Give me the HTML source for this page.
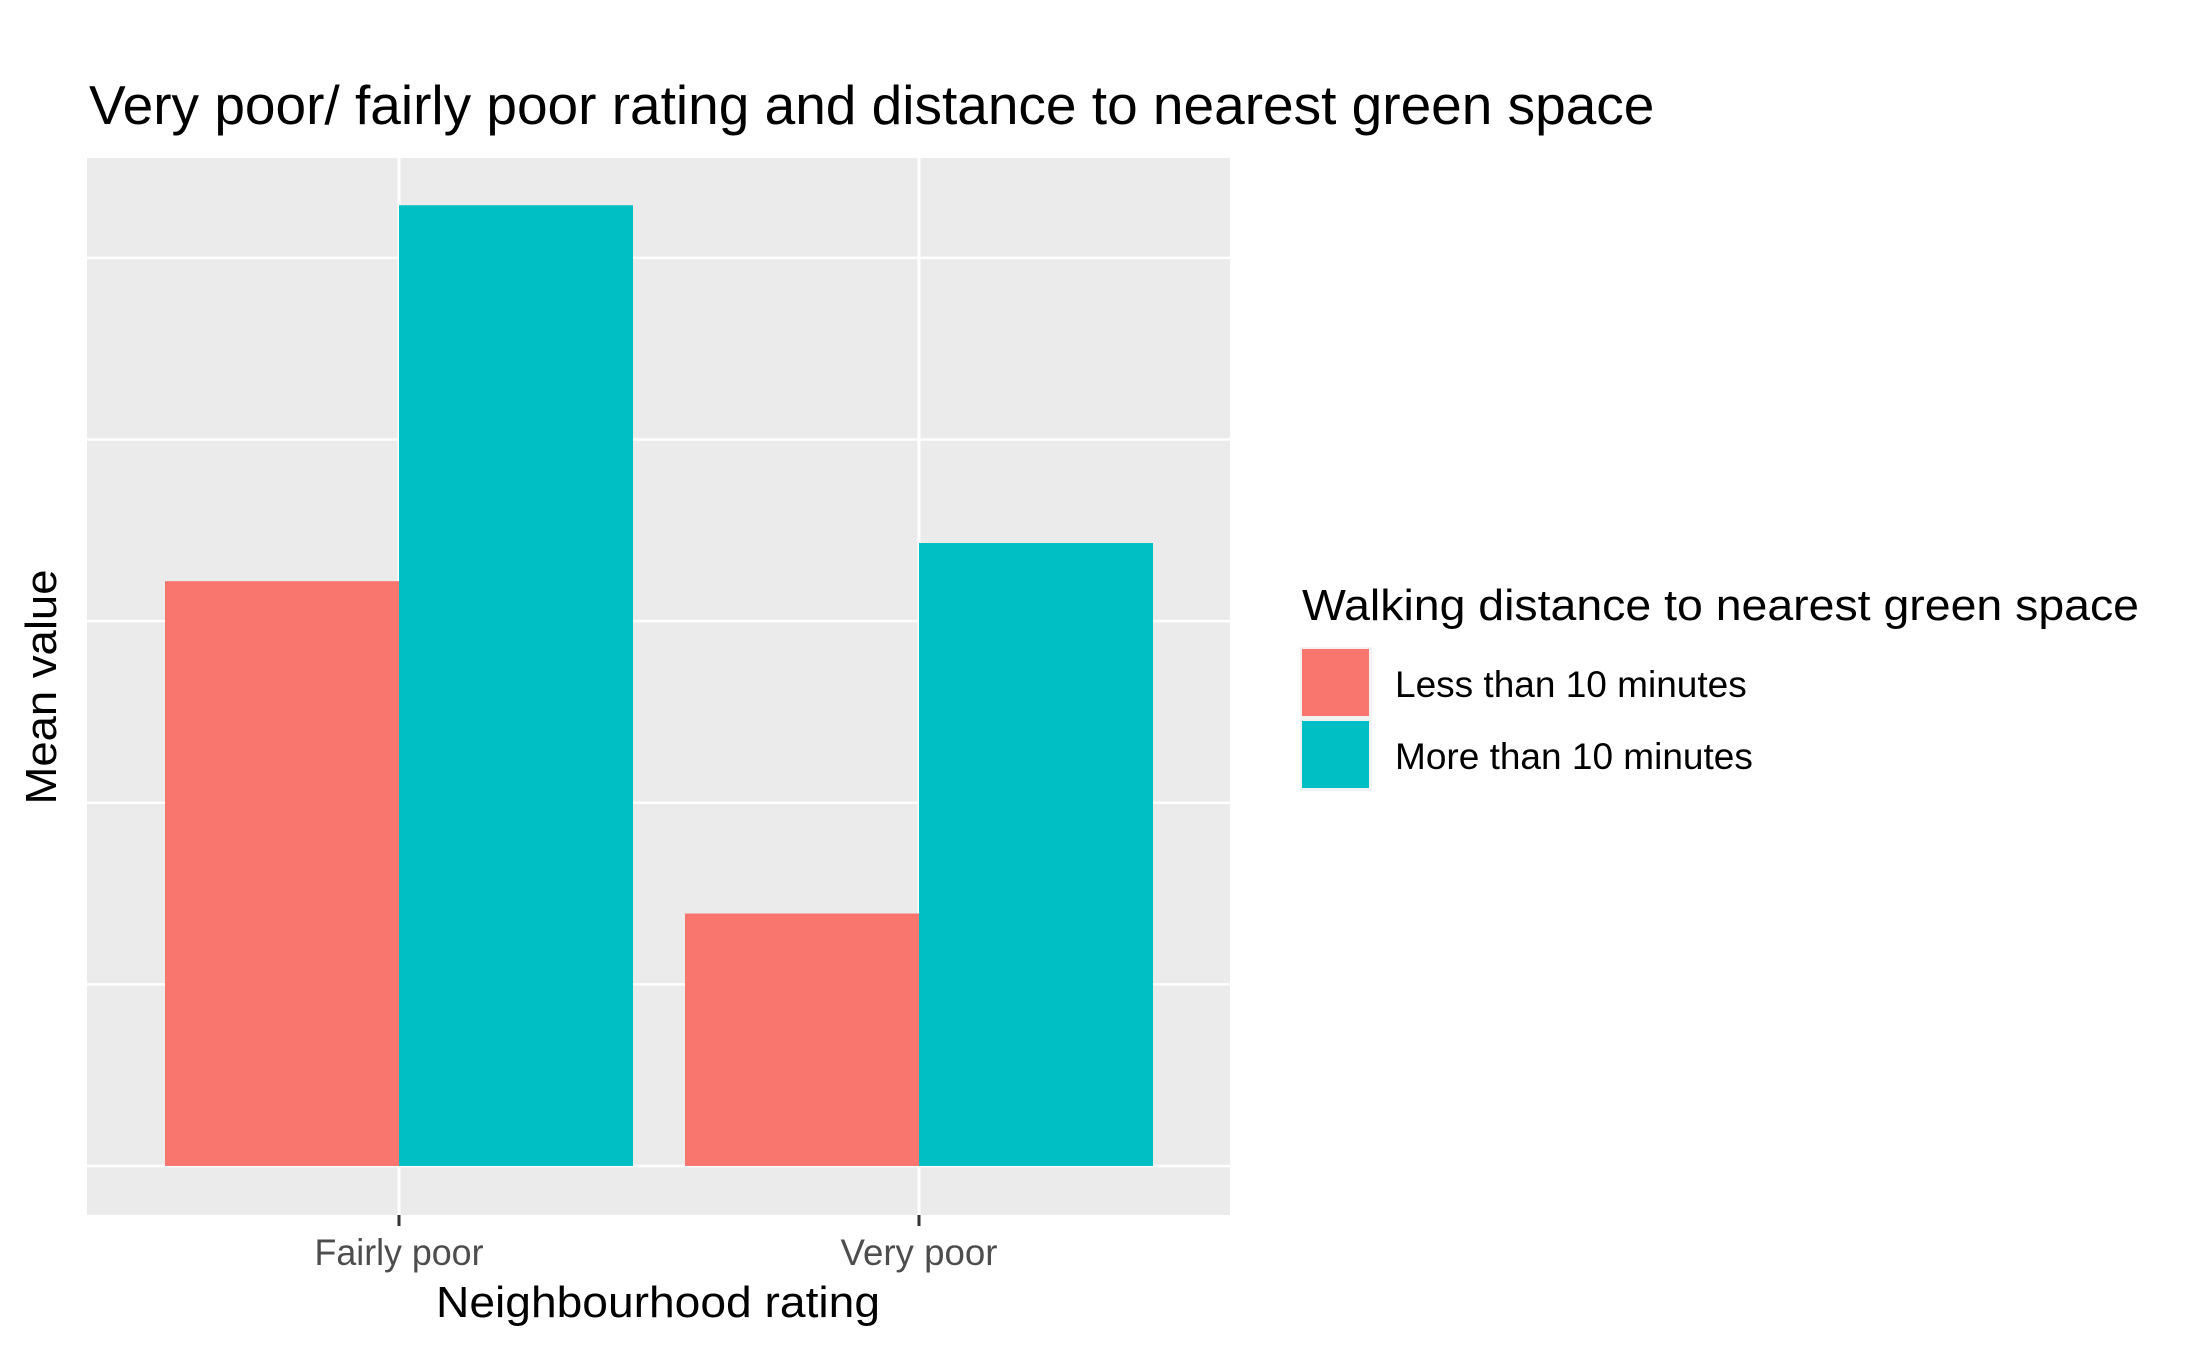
<!DOCTYPE html>
<html>
<head>
<meta charset="utf-8">
<style>
  html, body { margin: 0; padding: 0; background: #fff; }
  svg { display: block; }
  text { font-family: "Liberation Sans", Arial, sans-serif; }
</style>
</head>
<body>
<svg id="chart" width="2187" height="1349" viewBox="0 0 2187 1349" xmlns="http://www.w3.org/2000/svg">
  <rect x="0" y="0" width="2187" height="1349" fill="#ffffff"/>
  <text x="89" y="124" font-size="55" fill="#000">Very poor/ fairly poor rating and distance to nearest green space</text>
  <rect x="87" y="158" width="1143" height="1057" fill="#ebebeb"/>
  <g id="grid"></g>
  <g id="bars"></g>
  <g id="xaxis"></g>
  <text x="658" y="1317" font-size="44" text-anchor="middle" textLength="444" lengthAdjust="spacingAndGlyphs" fill="#000">Neighbourhood rating</text>
  <text transform="translate(56,687) rotate(-90)" font-size="44" text-anchor="middle" textLength="235" lengthAdjust="spacingAndGlyphs" fill="#000">Mean value</text>
  <g id="legend">
    <text x="1302" y="620" font-size="44" textLength="837" lengthAdjust="spacingAndGlyphs" fill="#000">Walking distance to nearest green space</text>
  </g>
</svg>
<script>
const categories = ["Fairly poor", "Very poor"];
const seriesNames = ["Less than 10 minutes", "More than 10 minutes"];
const lessThan10 = [3.22, 1.39];
const moreThan10 = [5.29, 3.43];
const gridValues = [0, 1, 2, 3, 4, 5];

const colors = ["#f8766d", "#00bfc4"];
const NS = "http://www.w3.org/2000/svg";
const panel = { left: 87, right: 1230, top: 158, bottom: 1215 };
const yMin = -0.27, yMax = 5.55;
function yScale(v) { return panel.bottom - (v - yMin) / (yMax - yMin) * (panel.bottom - panel.top); }
const catStep = 520, firstCenter = 399;
function xScale(i) { return firstCenter + i * catStep; }
const groupWidth = 0.9 * catStep;

function mk(tag, attrs) {
  const el = document.createElementNS(NS, tag);
  for (const k in attrs) el.setAttribute(k, attrs[k]);
  return el;
}

const grid = document.getElementById('grid');
gridValues.forEach(function (v) {
  const y = yScale(v);
  const l = mk('line', { x1: panel.left, x2: panel.right, y1: y, y2: y, stroke: '#ffffff', 'stroke-width': 2.5 });
  
  
  grid.appendChild(l);
});
categories.forEach(function (c, i) {
  const x = xScale(i);
  const l = mk('line', { x1: x, x2: x, y1: panel.top, y2: panel.bottom, stroke: '#ffffff', 'stroke-width': 3 });
  
  
  grid.appendChild(l);
});

const bars = document.getElementById('bars');
const series = [lessThan10, moreThan10];
const nS = series.length;
const barW = groupWidth / nS;
categories.forEach(function (c, i) {
  series.forEach(function (vals, s) {
    const x = xScale(i) - groupWidth / 2 + s * barW;
    const y0 = yScale(0), y1 = yScale(vals[i]);
    const r = mk('rect', { x: x, y: Math.min(y0, y1), width: barW, height: Math.abs(y0 - y1), fill: colors[s] });
    
    
    bars.appendChild(r);
  });
});

const tickWidths = [169, 157];
const xaxis = document.getElementById('xaxis');
categories.forEach(function (c, i) {
  const x = xScale(i);
  const t = mk('line', { x1: x, x2: x, y1: panel.bottom, y2: panel.bottom + 11, stroke: '#333333', 'stroke-width': 3 });
  
  
  xaxis.appendChild(t);
  const lab = mk('text', { x: x, y: 1265, 'font-size': 37, 'text-anchor': 'middle', fill: '#4d4d4d', textLength: tickWidths[i], lengthAdjust: 'spacingAndGlyphs' });
  lab.textContent = c;
  
  
  xaxis.appendChild(lab);
});

const legend = document.getElementById('legend');
seriesNames.forEach(function (n, s) {
  const ky = 647 + s * 72;
  const bg = mk('rect', { x: 1300, y: ky, width: 72, height: 72, fill: '#f2f2f2' });
  
  
  legend.appendChild(bg);
  const k = mk('rect', { x: 1302, y: ky + 2, width: 67, height: 67, fill: colors[s] });
  
  
  legend.appendChild(k);
  const t = mk('text', { x: 1395, y: ky + 50, 'font-size': 37, fill: '#000' });
  t.textContent = n;
  
  
  legend.appendChild(t);
});
</script>
</body>
</html>
